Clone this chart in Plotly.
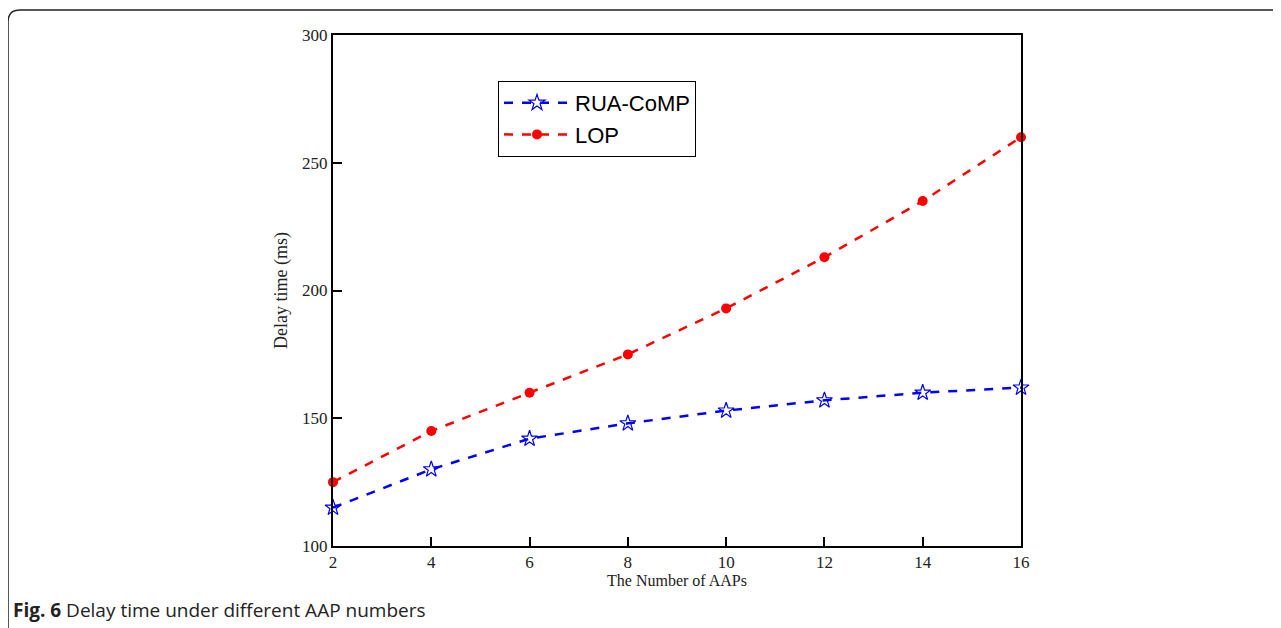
import plotly.graph_objects as go

aaps = [2, 4, 6, 8, 10, 12, 14, 16]
rua_comp = [115, 130, 142, 148, 153, 157, 160, 162]
lop = [125, 145, 160, 175, 193, 213, 235, 260]
x_ticks = [2, 4, 6, 8, 10, 12, 14, 16]
y_ticks = [100, 150, 200, 250, 300]

W, H = 1281, 628
OFF = 8  # page body offset
L, R, T, B = 333 - OFF, 260 + OFF, 35 - OFF, 82 + OFF
pw, ph = W - L - R, H - T - B

def px(x):
    return (x - OFF - L) / pw

def py(y):
    return 1 - (y - OFF - T) / ph

fig = go.Figure()
fig.add_trace(go.Scatter(
    x=aaps, y=rua_comp, name="RUA-CoMP", mode="lines+markers",
    line=dict(color="#0000ff", dash="dash", width=2.5),
    marker=dict(symbol="star-open", size=12, color="#0000ff", line=dict(width=1.2)),
    cliponaxis=False,
))
fig.add_trace(go.Scatter(
    x=aaps, y=lop, name="LOP", mode="lines+markers",
    line=dict(color="#ff0000", dash="dash", width=2.5),
    marker=dict(symbol="circle", size=10, color="#ff0000"),
    cliponaxis=False,
))

# rounded outer frame
x0, y0 = px(8), py(10)
x1, y1 = px(1300), py(650)
rx, ry = 12 / pw, 12 / ph
path = (f"M {x0},{y1} L {x0},{y0 - ry} Q {x0},{y0} {x0 + rx},{y0} L {x1},{y0}")
fig.add_shape(type="path", path=path, xref="paper", yref="paper",
              line=dict(color="#222222", width=1.5), layer="below")

fig.add_annotation(
    text="<b>Fig. 6</b> Delay time under different AAP numbers",
    xref="paper", yref="paper", x=px(11), y=py(610), xanchor="left", yanchor="middle",
    showarrow=False, font=dict(family="Open Sans", size=19, color="#222222"),
)

axis_common = dict(
    showline=True, linecolor="black", linewidth=2, mirror=True,
    ticks="inside", ticklen=9, tickwidth=2, tickcolor="black",
    showgrid=False, zeroline=False,
    tickfont=dict(family="Liberation Serif", size=17, color="#222222"),
)

fig.update_layout(
    width=W, height=H,
    margin=dict(l=L, r=R, t=T, b=B),
    plot_bgcolor="white", paper_bgcolor="white",
    xaxis=dict(range=[2, 16], tickvals=x_ticks, title=dict(
        text="The Number of AAPs", font=dict(family="Liberation Serif", size=16, color="#222222"),
        standoff=2), **axis_common),
    yaxis=dict(range=[100, 300], tickvals=y_ticks, title=dict(
        text="Delay time (ms)", font=dict(family="Liberation Serif", size=18, color="#222222"),
        standoff=10), **axis_common),
    legend=dict(
        x=px(498), y=py(81), xanchor="left", yanchor="top",
        bordercolor="black", borderwidth=1, bgcolor="white",
        font=dict(family="Liberation Sans", size=22, color="black"),
        itemwidth=66, tracegroupgap=0,
    ),
    showlegend=True,
)

fig.write_html("out.html")
